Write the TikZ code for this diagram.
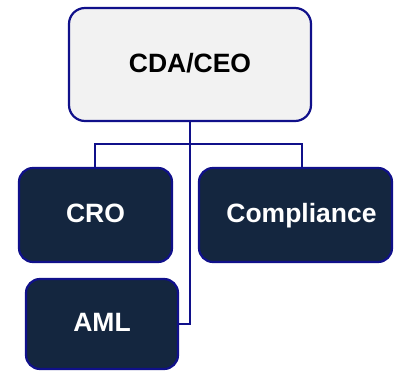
\documentclass[tikz,border=0pt]{standalone}
\usepackage{fontspec}
\setmainfont{Liberation Sans}
\definecolor{edgeblue}{HTML}{10108A}
\definecolor{boxnavy}{HTML}{14263F}
\definecolor{headfill}{HTML}{F2F2F2}
\tikzset{
  orgbox/.style={draw=edgeblue, line width=2.2pt, rounded corners=14pt,
    inner sep=0pt, text height=19pt, text depth=3pt,
    font=\fontsize{26.5}{30}\selectfont\bfseries},
  headbox/.style={orgbox, fill=headfill, text=black, rounded corners=16pt},
  unitbox/.style={orgbox, fill=boxnavy, text=white},
  link/.style={draw=edgeblue, line width=2.2pt}
}
\begin{document}
\begin{tikzpicture}[x=1pt, y=-1pt]
  \useasboundingbox (0,0) rectangle (394,371);
  % boxes
  \node[headbox, minimum width=242pt, minimum height=113pt] (ceo) at (190,64.5) {CDA/CEO};
  \node[unitbox, minimum width=153pt, minimum height=94pt] (cro) at (95.5,215) {CRO};
  % the label sits a little right of centre, under its connector
  \node[unitbox, minimum width=193pt, minimum height=94pt] (comp) at (295.5,215) {\hspace*{12pt}Compliance};
  \node[unitbox, minimum width=152pt, minimum height=90pt] (aml) at (102,324) {AML};
  % branch points of the reporting bar
  \coordinate (jl) at (95,144);
  \coordinate (jr) at (302,144);
  % connectors
  \draw[link] (ceo.south) |- (aml.east);
  \draw[link] (cro.north -| jl) -- (jl) -- (jr) -- (jr |- comp.north);
\end{tikzpicture}
\end{document}
